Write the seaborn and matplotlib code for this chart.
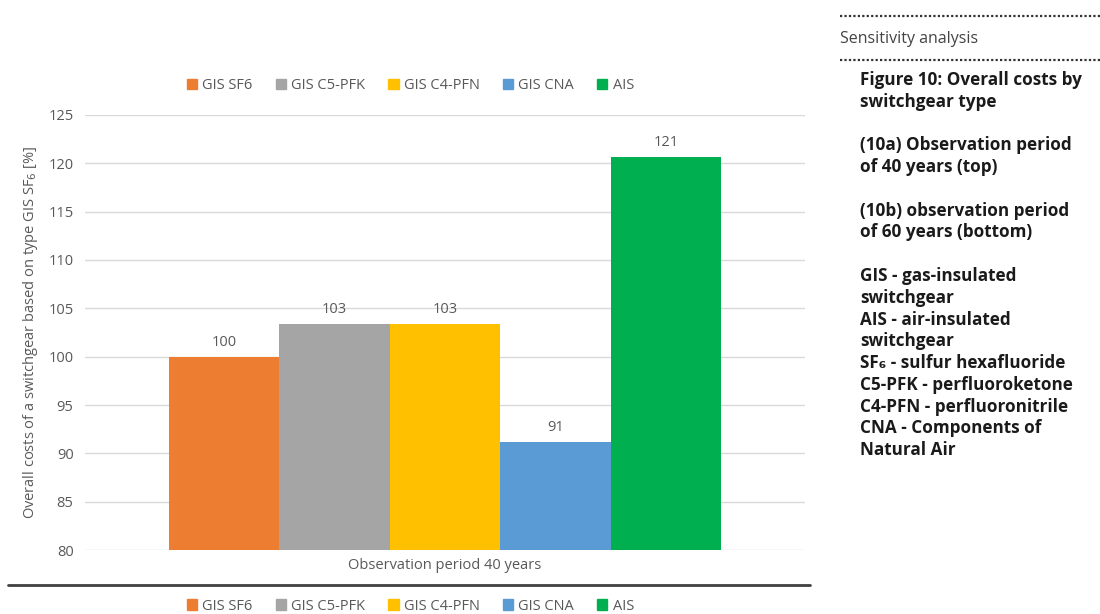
import matplotlib
matplotlib.use("Agg")
import matplotlib.pyplot as plt
from matplotlib.lines import Line2D
import seaborn as sns
import pandas as pd

# Data
period = ["Observation period 40 years"]
types = ["GIS SF6", "GIS C5-PFK", "GIS C4-PFN", "GIS CNA", "AIS"]
costs = [100.0, 103.4, 103.4, 91.2, 120.6]
colors = ["#ED7D31", "#A5A5A5", "#FFC000", "#5B9BD5", "#00B050"]
yticks = [80, 85, 90, 95, 100, 105, 110, 115, 120, 125]

df = pd.DataFrame({"period": period * len(types), "type": types, "cost": costs})

sns.set_theme(style="white")
plt.rcParams["font.family"] = ["Open Sans", "DejaVu Sans"]

fig = plt.figure(figsize=(11, 6.14), dpi=100)
ax = fig.add_axes([0.077, 0.104, 0.655, 0.709])

sns.barplot(data=df, x="period", y="cost", hue="type", palette=colors,
            saturation=1, width=0.8, linewidth=0, ax=ax, legend=False)

txt = "#595959"
ax.set_ylim(80, 125)
ax.set_xlim(-0.5217, 0.5217)
ax.set_yticks(yticks)
ax.yaxis.grid(True, color="#D9D9D9", linewidth=1)
ax.set_axisbelow(True)
for s in ax.spines.values():
    s.set_visible(False)
ax.tick_params(axis="both", length=0, labelsize=10.5, labelcolor=txt, pad=8)
ax.tick_params(axis="x", pad=6)
ax.set_xlabel("")
ax.set_ylabel("Overall costs of a switchgear based on type GIS SF$_6$ [%]",
              fontsize=10.5, color=txt, labelpad=6)

for cont in ax.containers:
    ax.bar_label(cont, fmt="%.0f", padding=5, fontsize=10.5, color=txt)

handles = [plt.Rectangle((0, 0), 1, 1, color=c) for c in colors]
leg_kw = dict(ncol=5, frameon=False, handlelength=0.7, handleheight=0.7,
              handletextpad=0.35, columnspacing=1.6, fontsize=10.5)
l1 = fig.legend(handles, types, loc="center", bbox_to_anchor=(0.373, 0.861), **leg_kw)
for t in l1.get_texts():
    t.set_color(txt)
l2 = fig.legend(handles, types, loc="center", bbox_to_anchor=(0.373, 0.013), **leg_kw)
for t in l2.get_texts():
    t.set_color(txt)

# separator line under chart
fig.add_artist(Line2D([0.007, 0.736], [1 - 585 / 614] * 2, color="#404040", lw=2,
                      transform=fig.transFigure))

# right panel
fig.add_artist(Line2D([0.764, 1.0], [1 - 16 / 614] * 2, color="#333333", lw=1.6,
                      linestyle=(0, (1, 1)), transform=fig.transFigure))
fig.add_artist(Line2D([0.764, 1.0], [1 - 60 / 614] * 2, color="#333333", lw=1.6,
                      linestyle=(0, (1, 1)), transform=fig.transFigure))
fig.text(0.764, 1 - 39 / 614, "Sensitivity analysis", fontsize=11.5, color="#444444",
         va="center", ha="left")

side = ("Figure 10: Overall costs by\nswitchgear type\n\n"
        "(10a) Observation period\nof 40 years (top)\n\n"
        "(10b) observation period\nof 60 years (bottom)\n\n"
        "GIS - gas-insulated\nswitchgear\nAIS - air-insulated\nswitchgear\n"
        "SF\u2086 - sulfur hexafluoride\nC5-PFK - perfluoroketone\n"
        "C4-PFN - perfluoronitrile\nCNA - Components of\nNatural Air")
fig.text(0.782, 1 - 71 / 614, side, fontsize=12.3, fontweight="bold", color="#1a1a1a",
         va="top", ha="left", linespacing=1.27)

fig.savefig("out.png", dpi=100)
